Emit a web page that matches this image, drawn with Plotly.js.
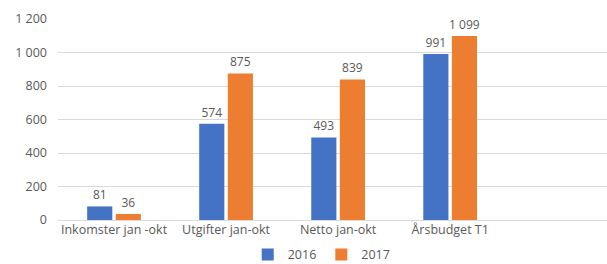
<!DOCTYPE html>
<html>
<head>
<meta charset="utf-8">
<script src="https://cdn.plot.ly/plotly-3.0.1.min.js"></script>
<style>html,body{margin:0;padding:0;background:#fff}#chart{width:607px;height:264px}</style>
</head>
<body>
<div id="chart"></div>
<script>
const categories = ["Inkomster jan -okt", "Utgifter jan-okt", "Netto jan-okt", "Årsbudget T1"];
const values2016 = [81, 574, 493, 991];
const values2017 = [36, 875, 839, 1099];
const seriesNames = ["2016", "2017"];
const yTickVals = [0, 200, 400, 600, 800, 1000, 1200];

function fmt(v) {
  return String(v).replace(/\B(?=(\d{3})+(?!\d))/g, "\u00a0");
}

const fam = "Open Sans, sans-serif";
const grey = "#595959";
const tickFont = {family: fam, size: 12.5, color: grey};
const labelFont = {family: fam, size: 12, color: grey};

const traces = [
  {type: "bar", name: seriesNames[0], x: categories, y: values2016,
   marker: {color: "#4472C4"}, text: values2016.map(fmt), textposition: "outside",
   constraintext: "none", textfont: labelFont, cliponaxis: false},
  {type: "bar", name: seriesNames[1], x: categories, y: values2017,
   marker: {color: "#ED7D31"}, text: values2017.map(fmt), textposition: "outside",
   constraintext: "none", textfont: labelFont, cliponaxis: false}
];

const layout = {
  width: 607, height: 264,
  margin: {l: 58, r: 0, t: 19, b: 44},
  paper_bgcolor: "#fff", plot_bgcolor: "#fff",
  font: tickFont,
  barmode: "group",
  bargap: 0.49, bargroupgap: 0.12,
  showlegend: true,
  legend: {orientation: "h", x: 0.53, xanchor: "center", xref: "container",
           y: 0.035, yanchor: "middle", yref: "container",
           font: {family: fam, size: 12.5, color: grey}, itemwidth: 30, tracegroupgap: 0,
           bgcolor: "rgba(0,0,0,0)"},
  xaxis: {type: "category", range: [-0.5, 4.4], showgrid: false, showline: false, zeroline: false,
          ticks: "", tickfont: tickFont, automargin: false},
  yaxis: {range: [0, 1200], tickvals: yTickVals, ticktext: yTickVals.map(fmt),
          showgrid: true, gridcolor: "#d9d9d9", gridwidth: 1, zeroline: true, zerolinecolor: "#d9d9d9",
          showline: false, ticks: "", tickfont: tickFont, ticklabelstandoff: 10, automargin: false}
};

Plotly.newPlot("chart", traces, layout, {displayModeBar: false, staticPlot: true});
</script>
</body>
</html>
